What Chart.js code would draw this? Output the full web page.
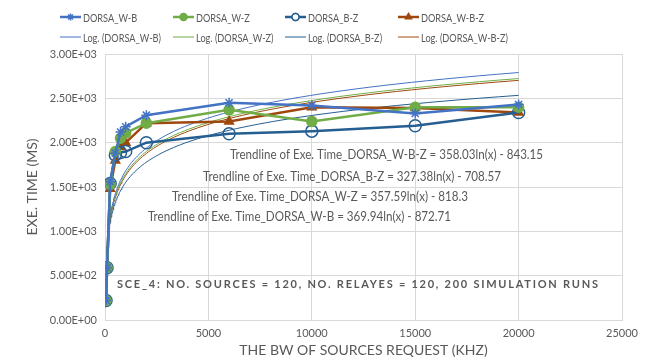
<!DOCTYPE html>
<html>
<head>
<meta charset="utf-8">
<script src="https://cdn.jsdelivr.net/npm/chart.js@4.4.1/dist/chart.umd.min.js"></script>
<style>
  html, body { margin: 0; padding: 0; background: #fff; }
  canvas { display: block; }
</style>
</head>
<body>
<canvas id="chart" width="647" height="363"></canvas>
<script>
// Data
const bwValues = [50, 100, 250, 500, 750, 1000, 2000, 6000, 10000, 15000, 20000];
const timeWB  = [220, 590, 1560, 1880, 2120, 2180, 2310, 2450, 2420, 2330, 2430];
const timeWZ  = [220, 590, 1530, 1900, 2050, 2110, 2220, 2370, 2240, 2400, 2400];
const timeBZ  = [220, 590, 1540, 1860, 1890, 1900, 2000, 2100, 2130, 2190, 2340];
const timeWBZ = [220, 590, 1480, 1800, 1950, 2000, 2220, 2240, 2400, 2390, 2340];
const seriesNames = ['DORSA_W-B', 'DORSA_W-Z', 'DORSA_B-Z', 'DORSA_W-B-Z'];
const seriesValues = [timeWB, timeWZ, timeBZ, timeWBZ];
// log trendline coefficients printed on the chart
const trendSlope = [369.94, 357.59, 327.38, 358.03];
const trendIntercept = [-872.71, -818.3, -708.57, -843.15];
const xTicks = [0, 5000, 10000, 15000, 20000, 25000];
const yTicks = [0, 500, 1000, 1500, 2000, 2500, 3000];
const noteText = 'SCE_4: NO. SOURCES = 120, NO. RELAYES = 120, 200 SIMULATION RUNS';

const colors = ['#4472C4', '#70AD47', '#255E91', '#9E480E'];
const styles = ['star', 'circle', 'circle', 'triangle'];
const textGray = '#595959';
const font = 'Lato, "Open Sans", sans-serif';

function fmtExp(v) {
  if (v === 0) return '0.00E+00';
  const e = Math.floor(Math.log10(Math.abs(v)));
  const m = v / Math.pow(10, e);
  return m.toFixed(2) + 'E' + (e < 0 ? '-' : '+') + String(Math.abs(e)).padStart(2, '0');
}

// trendline curve from the printed equation, between first and last x
function trendPoints(i) {
  const pts = [];
  const lo = Math.log(bwValues[0]), hi = Math.log(bwValues[bwValues.length - 1]);
  for (let k = 0; k <= 120; k++) {
    const x = Math.exp(lo + (hi - lo) * k / 120);
    pts.push({ x: x, y: trendSlope[i] * Math.log(x) + trendIntercept[i] });
  }
  return pts;
}

const datasets = [];
seriesNames.forEach((name, i) => {
  datasets.push({
    label: 'Log. (' + name + ')',
    data: trendPoints(i),
    borderColor: colors[i],
    borderWidth: 1,
    pointRadius: 0,
    tension: 0,
    fill: false,
    order: 1
  });
});
seriesNames.forEach((name, i) => {
  datasets.push({
    label: name,
    data: bwValues.map((x, k) => ({ x: x, y: seriesValues[i][k] })),
    borderColor: colors[i],
    backgroundColor: i === 2 ? 'rgba(255,255,255,0)' : colors[i],
    borderWidth: 2.5,
    pointStyle: styles[i],
    pointRadius: i === 2 ? 6 : 5,
    pointBorderWidth: 1.5,
    tension: 0,
    fill: false,
    order: 0
  });
});

// left edge and width of each equation label
const eqLabels = [
  { i: 3, x: 230, y: 155, w: 313 },
  { i: 2, x: 203, y: 177, w: 298 },
  { i: 1, x: 172, y: 197, w: 296 },
  { i: 0, x: 148, y: 217, w: 303 }
];

function squeezeText(ctx, t, x, y, ratio) {
  ctx.fillText(t, x, y, ctx.measureText(t).width * ratio);
}

const overlay = {
  id: 'overlay',
  afterDraw(chart) {
    const ctx = chart.ctx;
    ctx.save();
    // legend
    const cols = [60, 173, 285, 398];
    ctx.font = '11.5px ' + font;
    ctx.textBaseline = 'middle';
    seriesNames.forEach((name, i) => {
      const x = cols[i];
      let y = 17;
      ctx.strokeStyle = colors[i];
      ctx.lineWidth = 2.5;
      ctx.beginPath(); ctx.moveTo(x, y); ctx.lineTo(x + 21, y); ctx.stroke();
      ctx.fillStyle = colors[i];
      ctx.lineWidth = 1.5;
      Chart.helpers.drawPoint(ctx, {
        pointStyle: styles[i], radius: 3.5, borderWidth: 1.5, rotation: 0
      }, x + 10.5, y);
      if (i === 2) {
        ctx.fillStyle = '#fff';
        ctx.beginPath(); ctx.arc(x + 10.5, y, 3.5, 0, Math.PI * 2); ctx.fill(); ctx.stroke();
      }
      ctx.fillStyle = textGray;
      squeezeText(ctx, name, x + 23, y + 1, 0.8);
      y = 37;
      ctx.strokeStyle = colors[i];
      ctx.lineWidth = 1;
      ctx.beginPath(); ctx.moveTo(x, y); ctx.lineTo(x + 21, y); ctx.stroke();
      squeezeText(ctx, 'Log. (' + name + ')', x + 23, y + 1, 0.8);
    });
    // trendline equations
    ctx.font = '13px ' + font;
    eqLabels.forEach(l => {
      const t = 'Trendline of Exe. Time_' + seriesNames[l.i] + ' = ' +
        trendSlope[l.i].toFixed(2) + 'ln(x) - ' + Math.abs(trendIntercept[l.i]);
      ctx.fillText(t, l.x, l.y, l.w);
    });
    // scenario note
    ctx.font = 'bold 11px ' + font;
    ctx.letterSpacing = '1.75px';
    ctx.fillText(noteText, 117, 284);
    ctx.restore();
  }
};

new Chart(document.getElementById('chart'), {
  type: 'line',
  data: { datasets: datasets },
  plugins: [overlay],
  options: {
    responsive: false,
    animation: false,
    layout: { padding: { top: 54, right: 25, left: 0, bottom: 0 } },
    plugins: { legend: { display: false }, tooltip: { enabled: false } },
    scales: {
      x: {
        type: 'linear',
        min: 0, max: 25000,
        afterBuildTicks(s) { s.ticks = xTicks.map(v => ({ value: v })); },
        afterFit(s) { s.height = 43; },
        grid: { color: '#d9d9d9', drawTicks: false },
        border: { color: '#d9d9d9' },
        ticks: {
          color: textGray, font: { family: font, size: 11 }, padding: 7,
          callback: v => String(v), maxRotation: 0
        },
        title: {
          display: true, text: 'THE BW OF SOURCES REQUEST (KHZ)',
          color: textGray, font: { family: font, size: 14 }, padding: { top: 2 }
        }
      },
      y: {
        min: 0, max: 3000,
        afterBuildTicks(s) { s.ticks = yTicks.map(v => ({ value: v })); },
        afterFit(s) { s.width = 105; },
        grid: { color: '#d9d9d9', drawTicks: false },
        border: { color: '#d9d9d9' },
        ticks: {
          color: textGray, font: { family: font, size: 11 }, padding: 8,
          callback: v => fmtExp(v)
        },
        title: {
          display: true, text: 'EXE. TIME (MS)',
          color: textGray, font: { family: font, size: 14 }, padding: { top: 24, bottom: 0 }
        }
      }
    }
  }
});
</script>
</body>
</html>
